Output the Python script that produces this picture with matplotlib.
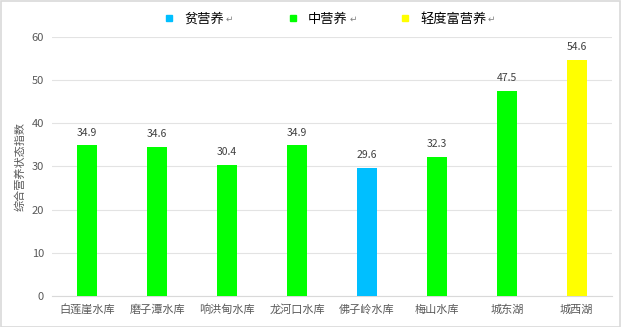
import matplotlib
matplotlib.use("Agg")
import matplotlib.pyplot as plt
from matplotlib.patches import Rectangle
from matplotlib.lines import Line2D

plt.rcParams['font.family'] = ['Noto Sans CJK SC', 'DejaVu Sans']

categories = ["白莲崖水库", "磨子潭水库", "响洪甸水库", "龙河口水库", "佛子岭水库", "梅山水库", "城东湖", "城西湖"]
values = [34.9, 34.6, 30.4, 34.9, 29.6, 32.3, 47.5, 54.6]
levels = ["中营养", "中营养", "中营养", "中营养", "贫营养", "中营养", "中营养", "轻度富营养"]
level_names = ["贫营养", "中营养", "轻度富营养"]
level_colors = {"贫营养": "#00BFFF", "中营养": "#00FF00", "轻度富营养": "#FFFF00"}
yticks = [0, 10, 20, 30, 40, 50, 60]

W, H = 621, 327
fig = plt.figure(figsize=(W / 100, H / 100), dpi=100)
fig.patches.append(Rectangle((0.001, 0.001), 0.997, 0.997, transform=fig.transFigure,
                             fill=False, edgecolor="#D9D9D9", linewidth=1.2))
ax = fig.add_axes([0.084, 0.095, 0.901, 0.792])

x = range(len(categories))
colors = [level_colors[l] for l in levels]
ax.bar(x, values, width=0.29, color=colors, zorder=3)
for xi, v in zip(x, values):
    ax.text(xi, v + 1.8, f"{v:.1f}", ha="center", va="bottom", fontsize=7.5, color="#404040")

ax.set_ylim(0, 60)
ax.set_yticks(yticks)
ax.set_xlim(-0.5, len(categories) - 0.5)
ax.set_xticks(list(x))
ax.set_xticklabels(categories, fontsize=8, color="#595959")
ax.tick_params(axis="y", labelsize=8, labelcolor="#595959", length=0, pad=6)
ax.tick_params(axis="x", length=0, pad=6)
ax.grid(axis="y", color="#E3E3E3", linewidth=0.8, zorder=0)
for s in ["top", "right", "left"]:
    ax.spines[s].set_visible(False)
ax.spines["bottom"].set_color("#D9D9D9")
ax.set_ylabel("综合营养状态指数", fontsize=8, color="#595959", labelpad=4)

# legend drawn at top
leg_marker_px = [169, 293, 405]
leg_y = 1 - 19 / H
for name, mx in zip(level_names, leg_marker_px):
    fig.add_artist(Line2D([mx / W], [leg_y + 0.004], transform=fig.transFigure, marker="s",
                          linestyle="none", markersize=5, markerfacecolor=level_colors[name],
                          markeredgecolor=level_colors[name]))
    t = fig.text((mx + 15) / W, leg_y, name, fontsize=9.5, color="#000000", ha="left", va="center")
    ax.annotate("↵", xy=(1, 0.45), xycoords=t, xytext=(1, 0), textcoords="offset points",
                fontsize=6.5, color="#808080", ha="left", va="center", annotation_clip=False)

fig.savefig("out.png", dpi=100)
